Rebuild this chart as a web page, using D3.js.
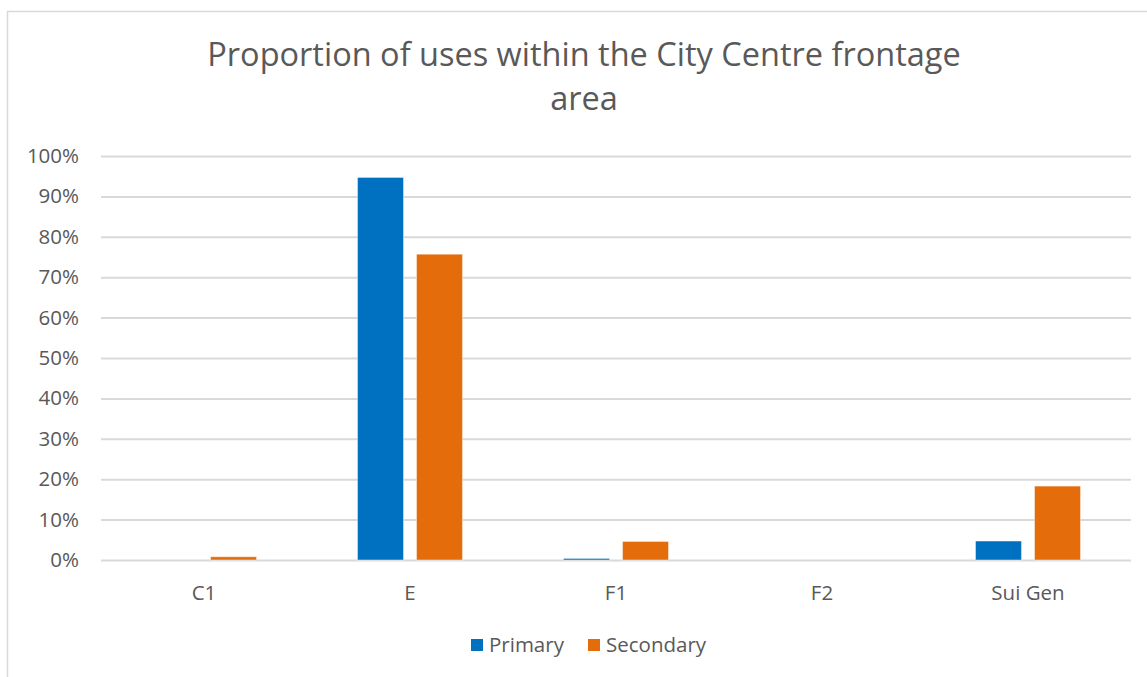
<!DOCTYPE html>
<html>
<head>
<meta charset="utf-8">
<script src="https://cdn.jsdelivr.net/npm/d3@7"></script>
<style>
html,body{margin:0;padding:0;background:#fff;}
svg{display:block;font-family:"Open Sans","Noto Sans",sans-serif;}
</style>
</head>
<body>
<svg id="chart" width="1147" height="677"></svg>
<script>
const categories = ["C1", "E", "F1", "F2", "Sui Gen"];
const seriesNames = ["Primary", "Secondary"];
const primaryValues = [0, 0.947, 0.004, 0, 0.047];
const secondaryValues = [0.008, 0.757, 0.046, 0, 0.183];
const yTicks = [0, 0.1, 0.2, 0.3, 0.4, 0.5, 0.6, 0.7, 0.8, 0.9, 1.0];
const colors = ["#0070C0", "#E46C0A"];
const titleLines = ["Proportion of uses within the City Centre frontage", "area"];

const svg = d3.select("#chart");
const W = 1147, H = 677;
const textColor = "#595959";
const FONT = "'Open Sans','Noto Sans',sans-serif";

// outer border
svg.append("rect").attr("x", 7.5).attr("y", 11.5).attr("width", W + 10).attr("height", H + 10)
  .attr("fill", "#fff").attr("stroke", "#d9d9d9").attr("stroke-width", 1.5);

const plot = {left: 101, right: 1131, top: 156, bottom: 560};

const y = d3.scaleLinear().domain([0, 1]).range([plot.bottom, plot.top]);
const x0 = d3.scaleBand().domain(categories).range([plot.left, plot.right])
  .paddingInner(0.49).paddingOuter(0.245);
const x1 = d3.scaleBand().domain(seriesNames).range([0, x0.bandwidth()]).paddingInner(0.22);

// gridlines + y labels
const yAxis = d3.axisLeft(y).tickValues(yTicks).tickSize(-(plot.right - plot.left))
  .tickFormat(d3.format(".0%")).tickPadding(22);
const gy = svg.append("g").attr("transform", `translate(${plot.left},0)`).call(yAxis);
gy.select(".domain").remove();
gy.selectAll(".tick line").attr("stroke", "#d9d9d9").attr("stroke-width", 2);
gy.selectAll(".tick text").attr("fill", textColor).attr("font-size", 20.5)
  .attr("font-family", FONT);

// bars
const data = categories.map((c, i) => ({cat: c, vals: [primaryValues[i], secondaryValues[i]]}));
const groups = svg.append("g").selectAll("g").data(data).join("g")
  .attr("transform", d => `translate(${x0(d.cat)},0)`);
groups.selectAll("rect").data(d => d.vals.map((v, j) => ({s: seriesNames[j], v, j})))
  .join("rect")
  .filter(d => d.v > 0)
  .attr("x", d => x1(d.s))
  .attr("width", x1.bandwidth())
  .attr("y", d => y(d.v))
  .attr("height", d => y(0) - y(d.v))
  .attr("fill", d => colors[d.j])
  .attr("stroke", "#fff").attr("stroke-width", 0.75).attr("stroke-opacity", 0.6);

// x axis labels
const xAxis = d3.axisBottom(x0).tickSize(0).tickPadding(25);
const gx = svg.append("g").attr("transform", `translate(0,${plot.bottom})`).call(xAxis);
gx.select(".domain").remove();
gx.selectAll(".tick text").attr("fill", textColor).attr("font-size", 20.5)
  .attr("font-family", FONT);

// title
const title = svg.append("text").attr("text-anchor", "middle").attr("fill", textColor)
  .attr("font-size", 32.5);
titleLines.forEach((t, i) => {
  title.append("tspan").attr("x", 584).attr("y", 66 + i * 44).text(t);
});

// legend
const legendItems = [{name: "Primary", x: 471}, {name: "Secondary", x: 588}];
const lg = svg.append("g");
legendItems.forEach((it, i) => {
  lg.append("rect").attr("x", it.x).attr("y", 639).attr("width", 12).attr("height", 12).attr("fill", colors[i]);
  lg.append("text").attr("x", it.x + 18).attr("y", 652).attr("fill", textColor)
    .attr("font-size", 20.5).text(it.name);
});
</script>
</body>
</html>
